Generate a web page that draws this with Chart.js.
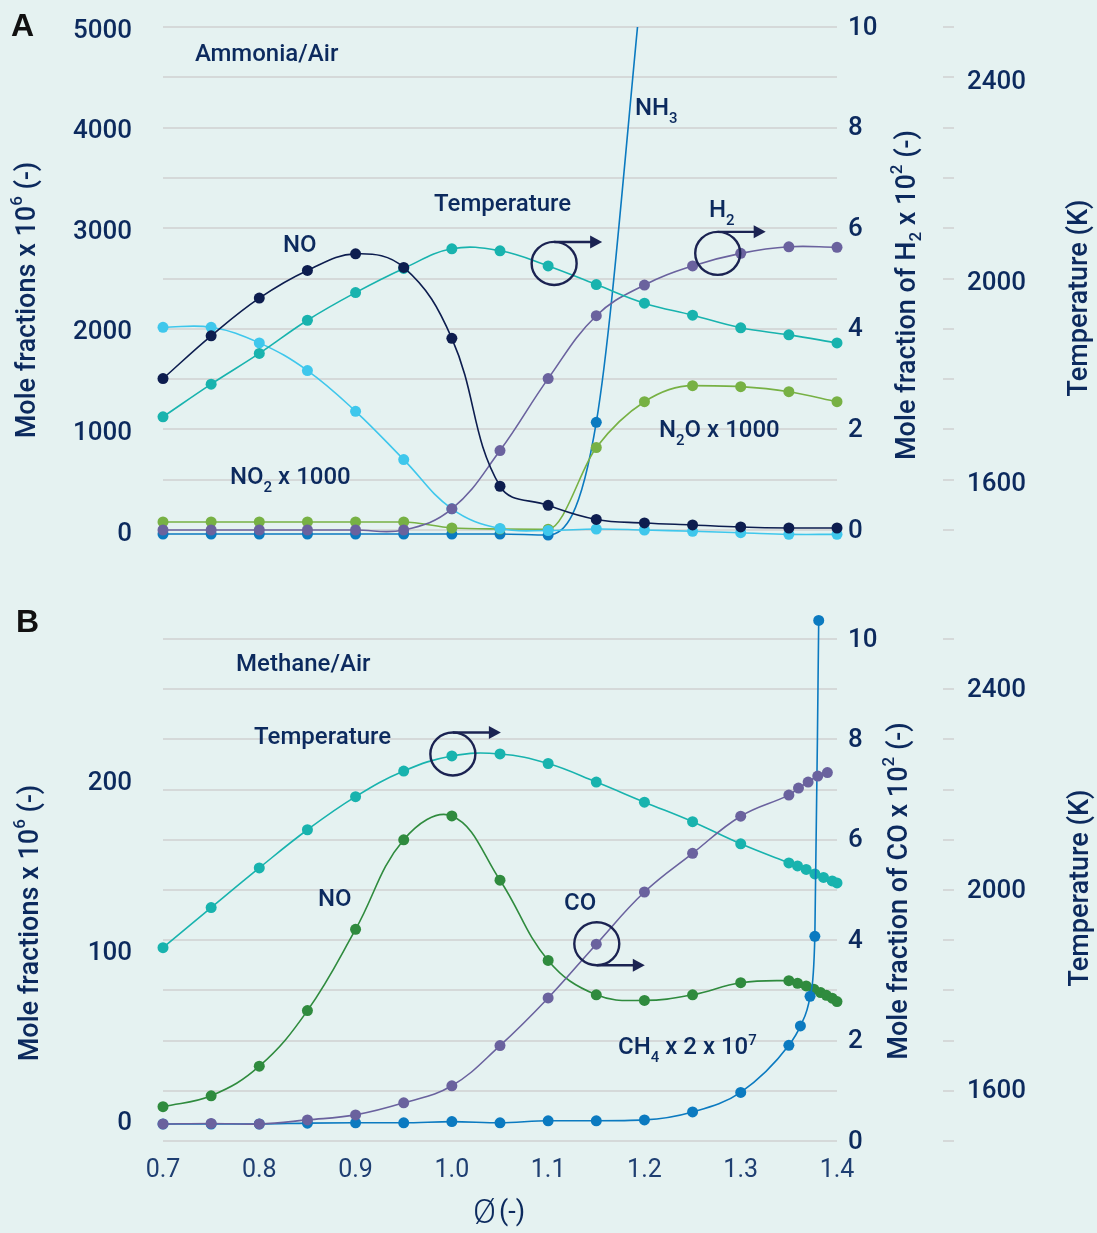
<!DOCTYPE html>
<html>
<head>
<meta charset="utf-8">
<title>NOx – ammonia/air vs methane/air</title>
<script src="https://cdn.jsdelivr.net/npm/chart.js@4.4.1/dist/chart.umd.min.js"></script>
<style>
  html, body { margin: 0; padding: 0; background: #e5f2f1; }
  canvas { display: block; }
</style>
</head>
<body>
<canvas id="chartA" width="1097" height="580"></canvas>
<canvas id="chartB" width="1097" height="653"></canvas>
<script>
// equivalence ratio grid (panel A and the regular part of panel B)
const phi = [0.7, 0.75, 0.8, 0.85, 0.9, 0.95, 1.0, 1.05, 1.1, 1.15, 1.2, 1.25, 1.3, 1.35, 1.4];

// A – ammonia / air (left axis: ppm, right: H2 x 10^2, temperature K)
const nh3NO  = [1505, 1930, 2305, 2580, 2745, 2610, 1905, 435, 245, 105, 70, 50, 30, 20, 20];
const nh3NO2 = [2015, 2015, 1860, 1585, 1180, 700, 210, 15, -5, 10, 0, -13, -27, -43, -43];
const nh3N2O = [80, 80, 80, 80, 80, 80, 20, 10, 8, 820, 1275, 1435, 1425, 1375, 1275];
const nh3NH3 = [-40, -40, -40, -40, -40, -40, -40, -40, -50, 1070, 5700]; // phi 0.7 .. 1.2, leaves the plot
const nh3H2  = [0, 0, 0, 0, 0, 0, 0.42, 1.58, 3.01, 4.26, 4.87, 5.25, 5.5, 5.63, 5.62];
const nh3T   = [1725, 1790, 1851, 1917, 1972, 2020, 2059, 2055, 2025, 1988, 1951, 1927, 1902, 1888, 1872];

// B – methane / air, the rich end is sampled finer
const phiTB  = [0.7, 0.75, 0.8, 0.85, 0.9, 0.95, 1.0, 1.05, 1.1, 1.15, 1.2, 1.25, 1.3, 1.35, 1.359, 1.368, 1.377, 1.386, 1.395, 1.4];
const ch4T   = [1885, 1965, 2044, 2120, 2186, 2237, 2267, 2271, 2252, 2215, 2175, 2136, 2092, 2054, 2048, 2041, 2032, 2025, 2018, 2014];
const phiNOB = [0.7, 0.75, 0.8, 0.85, 0.9, 0.95, 1.0, 1.05, 1.1, 1.15, 1.2, 1.25, 1.3, 1.35, 1.359, 1.368, 1.376, 1.383, 1.389, 1.395, 1.4];
const ch4NO  = [9, 15.4, 32.8, 65.5, 113.3, 166, 180, 142.2, 95, 74.8, 71.5, 74.8, 81.9, 83.1, 81.6, 80, 78.1, 76.1, 74.5, 72.8, 70.8];
const phiCOB = [0.7, 0.75, 0.8, 0.85, 0.9, 0.95, 1.0, 1.05, 1.1, 1.15, 1.2, 1.25, 1.3, 1.35, 1.36, 1.37, 1.38, 1.39];
const ch4CO  = [0.34, 0.35, 0.34, 0.42, 0.52, 0.76, 1.1, 1.9, 2.85, 3.92, 4.96, 5.73, 6.47, 6.89, 7.03, 7.15, 7.27, 7.34];
const phiCHB = [0.7, 0.75, 0.8, 0.85, 0.9, 0.95, 1.0, 1.05, 1.1, 1.15, 1.2, 1.25, 1.3, 1.35, 1.362, 1.372, 1.377, 1.381];
const ch4CH4 = [-1.2, -1.2, -1.2, -0.7, -0.5, -0.5, 0.2, -0.5, 0.7, 0.7, 1.2, 5.9, 17.4, 45.1, 56.5, 73.9, 109.2, 295];

// tick labels
const leftTicksA = [0, 1000, 2000, 3000, 4000, 5000];
const leftTicksB = [0, 100, 200];
const rightTicks = [0, 2, 4, 6, 8, 10];
const tempTicks  = [1600, 2000, 2400];
const phiTicks   = [0.7, 0.8, 0.9, 1.0, 1.1, 1.2, 1.3, 1.4];

const FONT = '"Roboto Medium", Roboto, "Noto Sans", sans-serif';
const C_TEXT = '#0c2a5e';
const C_NAVY = '#0d1d4f';
const C_TEAL = '#18b3ae';
const C_SKY = '#3fc7ec';
const C_PURPLE = '#6a629e';
const C_LIME = '#77b144';
const C_BLUE = '#0b7ac0';
const C_GREEN = '#2f8b3e';
const C_GRID = '#d5d9d9';
const C_ANNOT = '#1b2352';

function ds(label, xs, ys, color, axis, extra) {
  return Object.assign({
    label: label,
    yAxisID: axis,
    data: ys.map((v, i) => ({ x: xs[i], y: v })),
    borderColor: color,
    backgroundColor: color,
    borderWidth: 1.6,
    pointRadius: 5.5,
    pointHoverRadius: 5.5,
    pointBorderWidth: 0,
    tension: 0.4,
    clip: false
  }, extra || {});
}

// text with sub/superscripts: parts = [['NO'], ['2', 'sub'], [' x 1000']]
function rich(ctx, x, y, parts, size, opts) {
  opts = opts || {};
  const weight = opts.weight || 500;
  const fonts = parts.map(p => `${weight} ${p[1] ? Math.round(size * 0.62) : size}px ${FONT}`);
  let total = 0;
  parts.forEach((p, i) => { ctx.font = fonts[i]; total += ctx.measureText(p[0]).width; });
  let cx = opts.align === 'center' ? x - total / 2 : x;
  ctx.textAlign = 'left';
  ctx.textBaseline = opts.baseline || 'alphabetic';
  ctx.fillStyle = opts.color || C_TEXT;
  parts.forEach((p, i) => {
    ctx.font = fonts[i];
    const dy = p[1] === 'sub' ? size * 0.34 : p[1] === 'sup' ? -size * 0.36 : 0;
    ctx.fillText(p[0], cx, y + dy);
    cx += ctx.measureText(p[0]).width;
  });
}

function vtitle(ctx, x, y, parts) {
  ctx.save();
  ctx.translate(x, y);
  ctx.rotate(-Math.PI / 2);
  rich(ctx, 0, 0, parts, 27, { align: 'center', baseline: 'middle' });
  ctx.restore();
}

// circle round a point of a series with an arrow pointing to the right-hand axis
function marker(ctx, cx, cy, fromTop) {
  const rx = 22.5, ry = 21.5;
  ctx.save();
  ctx.strokeStyle = C_ANNOT;
  ctx.fillStyle = C_ANNOT;
  ctx.lineWidth = 2.4;
  ctx.beginPath();
  ctx.ellipse(cx, cy, rx, ry, 0, 0, Math.PI * 2);
  ctx.stroke();
  const ay = fromTop ? cy - ry : cy + ry;
  const end = cx + 48;
  ctx.beginPath();
  ctx.moveTo(cx, ay);
  ctx.lineTo(end - 11, ay);
  ctx.stroke();
  ctx.beginPath();
  ctx.moveTo(end - 12, ay - 6.5);
  ctx.lineTo(end, ay);
  ctx.lineTo(end - 12, ay + 6.5);
  ctx.closePath();
  ctx.fill();
  ctx.restore();
}

function pix(chart, axis, x, y) {
  return [chart.scales.x.getPixelForValue(x), chart.scales[axis].getPixelForValue(y)];
}

const tickFont = { family: FONT, size: 26, weight: '500' };

// keep the plot area exactly where the layout padding puts it
function noPad(s) { s.paddingTop = 0; s.paddingBottom = 0; s.paddingLeft = 0; s.paddingRight = 0; }

function rightScales(tempLabelOffset) {
  return {
    yR: {
      position: 'right', weight: 1, min: 0, max: 10,
      ticks: { stepSize: 1, color: C_TEXT, font: tickFont, padding: 11, autoSkip: false,
               callback: v => rightTicks.includes(v) ? String(v) : '' },
      grid: { color: C_GRID, lineWidth: 2, drawTicks: false },
      border: { display: false },
      afterFit: s => { s.width = 106; noPad(s); }
    },
    yT: {
      position: 'right', weight: 2, min: 1500, max: 2500,
      ticks: { stepSize: 100, color: C_TEXT, font: tickFont, padding: 13, autoSkip: false,
               labelOffset: tempLabelOffset,
               callback: v => tempTicks.includes(v) ? String(v) : '' },
      grid: { drawOnChartArea: false, drawTicks: true, tickLength: 11, color: C_GRID, lineWidth: 2 },
      border: { display: false },
      afterFit: s => { s.width = 154; noPad(s); }
    }
  };
}

const baseOptions = {
  responsive: false,
  animation: false,
  devicePixelRatio: 1,
  elements: { line: { capBezierPoints: false } },
  plugins: { legend: { display: false }, tooltip: { enabled: false } }
};

// ---------- panel A ----------
const annA = {
  id: 'annA',
  afterDatasetsDraw(chart) {
    const ctx = chart.ctx;
    ctx.save();
    ctx.font = 'bold 32px "Liberation Sans", Arial, sans-serif';
    ctx.fillStyle = '#111111';
    ctx.textAlign = 'left';
    ctx.textBaseline = 'alphabetic';
    ctx.fillText('A', 11, 36);

    rich(ctx, 195, 61, [['Ammonia/Air']], 24);
    rich(ctx, 434, 211, [['Temperature']], 24);
    rich(ctx, 283, 252, [['NO']], 24);
    rich(ctx, 635, 115, [['NH'], ['3', 'sub']], 24);
    rich(ctx, 709, 217, [['H'], ['2', 'sub']], 24);
    rich(ctx, 659, 437, [['N'], ['2', 'sub'], ['O x 1000']], 24);
    rich(ctx, 230, 484, [['NO'], ['2', 'sub'], [' x 1000']], 24);

    vtitle(ctx, 27, 300, [['Mole fractions x 10'], ['6', 'sup'], [' (-)']]);
    vtitle(ctx, 907, 295, [['Mole fraction of H'], ['2', 'sub'], [' x 10'], ['2', 'sup'], [' (-)']]);
    vtitle(ctx, 1079, 298, [['Temperature (K)']]);

    let p = pix(chart, 'yT', phi[8], nh3T[8]);
    marker(ctx, p[0] + 6, p[1] - 2.5, true);
    p = pix(chart, 'yR', phi[12], nh3H2[12]);
    marker(ctx, p[0] - 23, p[1], true);
    ctx.restore();
  }
};

new Chart(document.getElementById('chartA'), {
  type: 'line',
  data: {
    datasets: [
      ds('NO', phi, nh3NO, C_NAVY, 'y'),
      ds('Temperature', phi, nh3T, C_TEAL, 'yT'),
      ds('H2', phi, nh3H2, C_PURPLE, 'yR'),
      ds('NO2 x 1000', phi, nh3NO2, C_SKY, 'y'),
      ds('N2O x 1000', phi, nh3N2O, C_LIME, 'y', { cubicInterpolationMode: 'monotone' }),
      ds('NH3', phi, nh3NH3, C_BLUE, 'y', { cubicInterpolationMode: 'monotone',
         clip: { left: false, top: 0, right: false, bottom: false } })
    ]
  },
  options: Object.assign({}, baseOptions, {
    layout: { padding: { top: 27, bottom: 50, left: 0, right: 0 } },
    scales: Object.assign({
      x: { type: 'linear', min: 0.7, max: 1.4, display: false },
      y: {
        position: 'left', min: 0, max: 5000,
        ticks: { color: C_TEXT, font: tickFont, padding: 23, labelOffset: 3, callback: v => String(v) },
        afterBuildTicks: s => { s.ticks = leftTicksA.map(v => ({ value: v })); },
        grid: { display: false },
        border: { display: false },
        afterFit: s => { s.width = 163; noPad(s); }
      }
    }, rightScales(4))
  }),
  plugins: [annA]
});

// ---------- panel B ----------
const annB = {
  id: 'annB',
  afterDatasetsDraw(chart) {
    const ctx = chart.ctx;
    ctx.save();

    // Chart.js skips points outside the plot area; the last CH4 sample sits above it
    const chMeta = chart.getDatasetMeta(1);
    const top = chMeta.data[chMeta.data.length - 1];
    ctx.fillStyle = C_BLUE;
    ctx.beginPath();
    ctx.arc(top.x, top.y, 5.5, 0, Math.PI * 2);
    ctx.fill();

    ctx.font = 'bold 32px "Liberation Sans", Arial, sans-serif';
    ctx.fillStyle = '#111111';
    ctx.textAlign = 'left';
    ctx.textBaseline = 'alphabetic';
    ctx.fillText('B', 16, 52);

    rich(ctx, 236, 91, [['Methane/Air']], 24);
    rich(ctx, 254, 164, [['Temperature']], 24);
    rich(ctx, 318, 326, [['NO']], 24);
    rich(ctx, 564, 330, [['CO']], 24);
    rich(ctx, 618, 474, [['CH'], ['4', 'sub'], [' x 2 x 10'], ['7', 'sup']], 24);

    vtitle(ctx, 30, 343, [['Mole fractions x 10'], ['6', 'sup'], [' (-)']]);
    vtitle(ctx, 899, 311, [['Mole fraction of CO x 10'], ['2', 'sup'], [' (-)']]);
    vtitle(ctx, 1080, 308, [['Temperature (K)']]);

    // x axis title
    ctx.fillStyle = C_TEXT;
    ctx.textAlign = 'left';
    ctx.textBaseline = 'middle';
    ctx.font = '300 34px Roboto, sans-serif';
    ctx.fillText('Ø', 473, 634);
    ctx.font = '400 27px Roboto, sans-serif';
    ctx.fillText('(-)', 499, 633);

    let p = pix(chart, 'yT', phiTB[6], ch4T[6]);
    marker(ctx, p[0] + 1, p[1] - 2, true);
    p = pix(chart, 'yR', phiCOB[9], ch4CO[9]);
    marker(ctx, p[0] + 0.5, p[1] - 0.5, false);
    ctx.restore();
  }
};

new Chart(document.getElementById('chartB'), {
  type: 'line',
  data: {
    datasets: [
      ds('CO', phiCOB, ch4CO, C_PURPLE, 'yR'),
      ds('CH4 x 2 x 10^7', phiCHB, ch4CH4, C_BLUE, 'y', { cubicInterpolationMode: 'monotone' }),
      ds('Temperature', phiTB, ch4T, C_TEAL, 'yT'),
      ds('NO', phiNOB, ch4NO, C_GREEN, 'y')
    ]
  },
  options: Object.assign({}, baseOptions, {
    layout: { padding: { top: 59, bottom: 0, left: 0, right: 0 } },
    scales: Object.assign({
      x: {
        type: 'linear', position: 'bottom', min: 0.7, max: 1.4,
        ticks: { color: '#1f3f72', font: { family: 'Roboto, sans-serif', size: 25, weight: '400' }, padding: 7,
                 maxRotation: 0, autoSkip: false, callback: v => Number(v).toFixed(1) },
        afterBuildTicks: s => { s.ticks = phiTicks.map(v => ({ value: v })); },
        grid: { display: false },
        border: { display: false },
        afterFit: s => { s.height = 92; noPad(s); }
      },
      y: {
        position: 'left', min: -11.2, max: 284.1,
        ticks: { color: C_TEXT, font: tickFont, padding: 23 },
        afterBuildTicks: s => { s.ticks = leftTicksB.map(v => ({ value: v })); },
        grid: { display: false },
        border: { display: false },
        afterFit: s => { s.width = 163; noPad(s); }
      }
    }, rightScales(0))
  }),
  plugins: [annB]
});
</script>
</body>
</html>
